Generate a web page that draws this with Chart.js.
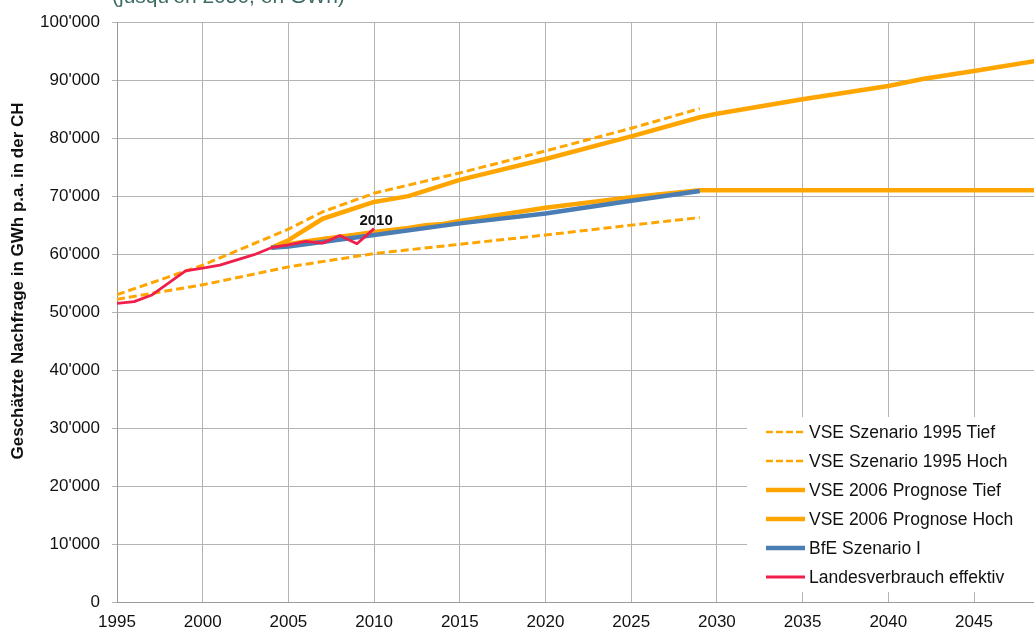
<!DOCTYPE html>
<html><head><meta charset="utf-8">
<script src="https://cdn.jsdelivr.net/npm/chart.js@4"></script>
<style>
html,body{margin:0;padding:0;background:#fff;overflow:hidden}
#wrap{position:relative;width:1034px;height:630px}
</style></head><body>
<div id="wrap"><canvas id="c" width="1034" height="630"></canvas></div>
<script>
// Daten (GWh p.a.)
const xTicks = [1995, 2000, 2005, 2010, 2015, 2020, 2025, 2030, 2035, 2040, 2045];

const tief95Years = [1995, 2000, 2005, 2010, 2015, 2020, 2025, 2029];
const tief95Vals  = [52200, 54700, 57800, 60100, 61700, 63300, 65000, 66300];

const hoch95Years = [1995, 2000, 2005, 2007, 2010, 2015, 2020, 2025, 2029];
const hoch95Vals  = [53000, 58100, 64300, 67300, 70500, 74000, 77800, 81700, 85100];

const tief06Years = [2004, 2005, 2006, 2007, 2008, 2009, 2010, 2012, 2013, 2014, 2015, 2020, 2025, 2029, 2050];
const tief06Vals  = [61100, 61700, 62200, 62600, 63000, 63400, 63800, 64500, 65000, 65200, 65700, 68000, 69800, 71000, 71000];

const hoch06Years = [2004, 2005, 2007, 2010, 2012, 2015, 2020, 2025, 2029, 2030, 2035, 2040, 2042, 2045, 2050];
const hoch06Vals  = [61100, 62400, 66100, 69000, 70000, 72800, 76400, 80300, 83600, 84200, 86700, 89000, 90200, 91600, 94000];

const bfeYears = [2004, 2005, 2010, 2015, 2020, 2025, 2029];
const bfeVals  = [61100, 61300, 63300, 65300, 67000, 69200, 70900];

const effYears = [1995, 1996, 1997, 1998, 1999, 2000, 2001, 2002, 2003, 2004, 2005, 2006, 2007, 2008, 2009, 2010];
const effVals  = [51500, 51800, 52900, 55000, 57100, 57600, 58100, 59000, 59900, 61100, 61600, 62200, 61900, 63200, 61800, 64400];

const labels = ['VSE Szenario 1995 Tief','VSE Szenario 1995 Hoch','VSE 2006 Prognose Tief','VSE 2006 Prognose Hoch','BfE Szenario I','Landesverbrauch effektiv'];

const ORANGE='#ffa500', BLUE='#4a7db4', RED='#f01e4a', FONT='"Liberation Sans", Arial, sans-serif';
const pts=(xs,ys)=>xs.map((x,i)=>({x,y:ys[i]}));
const fmt=v=>String(v).replace(/\B(?=(\d{3})+(?!\d))/g,"'");

// Titel, Achsentitel, Legende, Jahreslabel
const extras={
  id:'extras',
  afterDraw(chart){
    const {ctx}=chart;
    ctx.save();
    // abgeschnittener Titel oben
    ctx.fillStyle='#3d6b63'; ctx.font='21px '+FONT; ctx.textAlign='left'; ctx.textBaseline='alphabetic';
    ctx.fillText("(jusqu'en 2050, en GWh)",112,3);
    // y-Achsentitel
    ctx.save(); ctx.translate(18,281); ctx.rotate(-Math.PI/2);
    ctx.fillStyle='#111'; ctx.font='bold 17px '+FONT; ctx.textAlign='center'; ctx.textBaseline='middle';
    ctx.fillText('Geschätzte Nachfrage in GWh p.a. in der CH',0,0);
    ctx.restore();
    // Label letzter Wert
    const meta=chart.getDatasetMeta(5), p=meta.data[meta.data.length-1];
    ctx.fillStyle='#111'; ctx.font='bold 15px '+FONT; ctx.textAlign='center'; ctx.textBaseline='alphabetic';
    ctx.fillText(String(effYears[effYears.length-1]),p.x+2,p.y-4);
    // Legende
    ctx.fillStyle='#fff'; ctx.fillRect(747,417,300,175);
    chart.data.datasets.forEach((ds,i)=>{
      const y=432+i*29;
      ctx.beginPath();
      ctx.setLineDash(ds.borderDash?[7,3]:[]);
      ctx.lineWidth=ds.borderDash?2.5:ds.borderWidth;
      ctx.strokeStyle=ds.borderColor;
      ctx.moveTo(766,y); ctx.lineTo(805,y); ctx.stroke();
      ctx.setLineDash([]);
      ctx.fillStyle='#111'; ctx.font='17.5px '+FONT; ctx.textAlign='left'; ctx.textBaseline='middle';
      ctx.fillText(ds.label,809,y+1);
    });
    ctx.restore();
  }
};

const line=(label,data,color,width,dash,order)=>({label,data,borderColor:color,backgroundColor:color,borderWidth:width,
  borderDash:dash,pointRadius:0,tension:0,borderJoinStyle:'round',order,fill:false});

new Chart(document.getElementById('c'),{
  type:'line',
  data:{datasets:[
    line(labels[0],pts(tief95Years,tief95Vals),ORANGE,3,[8,4],5),
    line(labels[1],pts(hoch95Years,hoch95Vals),ORANGE,3,[8,4],4),
    line(labels[2],pts(tief06Years,tief06Vals),ORANGE,4.5,undefined,2),
    line(labels[3],pts(hoch06Years,hoch06Vals),ORANGE,4.5,undefined,3),
    line(labels[4],pts(bfeYears,bfeVals),BLUE,4.5,undefined,1),
    line(labels[5],pts(effYears,effVals),RED,2.8,undefined,0)
  ]},
  options:{
    responsive:false, animation:false, devicePixelRatio:1,
    layout:{padding:{top:22,right:0,left:0,bottom:0}},
    plugins:{legend:{display:false},tooltip:{enabled:false},title:{display:false}},
    scales:{
      x:{type:'linear',min:1995,max:2048.5,
        afterBuildTicks:s=>{s.ticks=xTicks.map(v=>({value:v}));},
        afterFit:s=>{s.height=28;},
        ticks:{callback:v=>String(v),color:'#111',font:{family:FONT,size:17},padding:10,maxRotation:0,autoSkip:false},
        grid:{color:'#b3b3b3',drawTicks:false},
        border:{color:'#999',width:1}},
      y:{min:0,max:100000,
        afterFit:s=>{s.width=117;},
        ticks:{stepSize:10000,callback:v=>fmt(v),color:'#111',font:{family:FONT,size:17},padding:12},
        grid:{color:'#b3b3b3',tickLength:5},
        border:{color:'#999',width:1}}
    }
  },
  plugins:[extras]
});
</script></body></html>
